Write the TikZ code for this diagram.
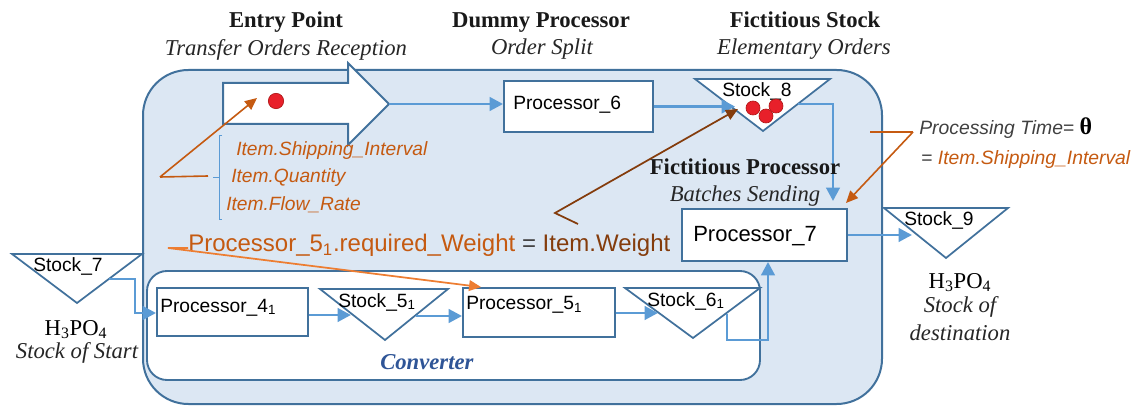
\documentclass[tikz,border=0pt]{standalone}
\usepackage{fontspec}
\setmainfont{Liberation Serif}
\newfontfamily\arialf{Liberation Sans}
\usetikzlibrary{arrows.meta}
\definecolor{bordc}{HTML}{41719C}
\definecolor{connc}{HTML}{5B9BD5}
\definecolor{fillc}{HTML}{DCE7F3}
\definecolor{orgc}{HTML}{C55A11}
\definecolor{orgl}{HTML}{ED7D31}
\definecolor{brnc}{HTML}{843C0C}
\definecolor{grayc}{HTML}{404040}
\definecolor{convc}{HTML}{2F5597}
\definecolor{dotc}{HTML}{E8202A}
\definecolor{dotb}{HTML}{B01818}
\begin{document}
\begin{tikzpicture}[x=0.75pt,y=-0.75pt,
  procbox/.style={draw=bordc, fill=white, line width=1.4pt, inner sep=0pt},
  stockshape/.style={draw=bordc, fill=white, line width=1.3pt, line join=miter},
  conn/.style={draw=connc, line width=2.2pt, -{Triangle[length=10pt,width=10pt]}},
  orgln/.style={draw=orgc, line width=1.2pt, -{Triangle[length=9pt,width=8pt]}},
  sanslbl/.style={inner sep=0pt, anchor=base west, text=black, font=\arialf\fontsize{14.4}{17}\selectfont},
  itemlbl/.style={inner sep=0pt, anchor=base west, text=orgc, font=\arialf\itshape\fontsize{14.4}{17}\selectfont},
  headb/.style={inner sep=0pt, anchor=base, text=black!90, font=\bfseries\fontsize{17}{20}\selectfont},
  headi/.style={inner sep=0pt, anchor=base, text=black!85, font=\itshape\fontsize{17}{20}\selectfont},
  reddot/.style={circle, fill=dotc, draw=dotb, line width=0.5pt, inner sep=0pt},
]
\useasboundingbox (0,0) rectangle (1143,406);

% main container
\draw[draw=bordc, fill=fillc, line width=1.5pt, rounded corners=34pt] (143,70) rectangle (882,404);

% converter
\node[draw=bordc, fill=white, line width=1.4pt, rounded corners=15pt, inner sep=0pt,
      minimum width=459.75pt, minimum height=81.75pt] (conv) at (453.5,325.5) {};
\node[inner sep=0pt, anchor=base west, text=convc, font=\bfseries\itshape\fontsize{17}{20}\selectfont] (convlbl) at (380,369) {Converter};

% entry arrow
\draw[draw=bordc, fill=white, line width=1.5pt, line join=miter]
  (223,83) -- (348,83) -- (348,63) -- (389,104) -- (348,145) -- (348,124) -- (223,124) -- cycle;
\coordinate (eptip) at (389,104);
\node[reddot, minimum size=11.5pt] (dot) at (276,101) {};

% processors
\node[procbox, minimum width=111.75pt, minimum height=38.25pt] (p6) at (578.5,106.5) {};
\node[sanslbl] (p6t) at (513,110) {Processor\_6};
\node[procbox, minimum width=123.75pt, minimum height=39pt] (p7) at (764.5,235) {};
\node[sanslbl, font=\arialf\fontsize{16.5}{19}\selectfont] (p7t) at (693,242) {Processor\_7};
\node[procbox, minimum width=113.25pt, minimum height=36pt] (p4) at (232.5,312) {};
\node[sanslbl] (p4t) at (160,312) {Processor\_4\textsubscript{1}};
\node[procbox, minimum width=114pt, minimum height=36.75pt] (p5) at (539,312.5) {};
\node[sanslbl] (p5t) at (466,310) {Processor\_5\textsubscript{1}};

% stocks
\draw[stockshape] (695,79) -- (830,79) -- (763,131) -- cycle;
\node[sanslbl] (s8t) at (722,97) {Stock\_8};
\node[reddot, minimum size=10.5pt] (d1) at (753,108) {};
\node[reddot, minimum size=10.5pt] (d3) at (776,106) {};
\node[reddot, minimum size=10.5pt] (d2) at (766,116) {};
\coordinate (s8in) at (735,106);
\coordinate (s8out) at (798,104);
\coordinate (s8arr) at (738,109);

\draw[stockshape] (12,254) -- (142,254) -- (77,303) -- cycle;
\node[sanslbl] (s7t) at (33,272) {Stock\_7};
\coordinate (s7out) at (109,279);

\draw[stockshape] (884,208) -- (1008,208) -- (946,258) -- cycle;
\node[sanslbl] (s9t) at (904,226) {Stock\_9};
\coordinate (s9in) at (912,234);

\draw[stockshape] (320,289) -- (448,289) -- (385,340) -- cycle;
\node[sanslbl] (s5t) at (338,307) {Stock\_5\textsubscript{1}};
\coordinate (s5in) at (351,315);
\coordinate (s5out) at (416,316);

\draw[stockshape] (625,288) -- (760,288) -- (693,338) -- cycle;
\node[sanslbl] (s6t) at (647,306) {Stock\_6\textsubscript{1}};
\coordinate (s6in) at (658,313);
\coordinate (s6out) at (727,314);

% blue connectors
\draw[conn] (eptip) -- (eptip -| p6.west);
\draw[conn] (p6.east) -- (p6.east -| s8in);
\draw[conn] (s8out) -- (833,104) -- (833,201);
\draw[conn] (p7.east) -- (p7.east -| s9in);
\draw[conn] (s7out) -- (135,279) -- (135,313) -- (p4.west |- 0,313);
\draw[conn] (p4.east |- 0,315) -- (s5in);
\draw[conn] (s5out) -- (p5.west |- s5out);
\draw[conn] (p5.east |- 0,313) -- (s6in);
\draw[conn] (s6out) -- (727,340) -- (768,340) -- (p7.south -| 768,0);

% top headings
\node[headb] (h1) at (286,28) {Entry Point};
\node[headi] (h1i) at (286,56) {Transfer Orders Reception};
\node[headb] (h2) at (541,28) {Dummy Processor};
\node[headi] (h2i) at (542,55) {Order Split};
\node[headb] (h3) at (805,28) {Fictitious Stock};
\node[headi] (h3i) at (804,55) {Elementary Orders};
\node[headb] (h4) at (745,175) {Fictitious Processor};
\node[headi] (h4i) at (745,202) {Batches Sending};

% side texts
\node[inner sep=0pt, anchor=base, font=\fontsize{17}{20}\selectfont] (h3po4a) at (76,335) {H\textsubscript{3}PO\textsubscript{4}};
\node[headi] (ssa) at (77,358) {Stock of Start};
\node[inner sep=0pt, anchor=base, font=\fontsize{17}{20}\selectfont] (h3po4b) at (960,288) {H\textsubscript{3}PO\textsubscript{4}};
\node[headi] (ssb) at (960,312) {Stock of};
\node[headi] (ssc) at (960,340) {destination};

% bracket annotations
\draw[draw=connc, line width=0.7pt] (222,135) -- (219,135) -- (219,219) -- (222,219);
\draw[draw=connc, line width=0.7pt] (219,177) -- (213,177);
\node[itemlbl] (it1) at (236,156) {Item.Shipping\_Interval};
\node[itemlbl] (it2) at (231,183) {Item.Quantity};
\node[itemlbl] (it3) at (226,211) {Item.Flow\_Rate};
\coordinate (brk) at (160,177);
\coordinate (dotarr) at (257,98);
\draw[draw=orgc, line width=1.2pt] (208,176) -- (brk);
\draw[orgln] (brk) -- (dotarr);

% formula
\node[inner sep=0pt, anchor=base west, font=\arialf\fontsize{18}{21}\selectfont] (formula) at (188,252)
  {\textcolor{orgc}{Processor\_5\textsubscript{1}.required\_Weight} \textcolor{grayc}{=} \textcolor{brnc}{Item.Weight}};
\coordinate (fl) at (168,248);
\draw[draw=orgl, line width=1.3pt, -{Triangle[length=9pt,width=8pt]}] (formula.west |- fl) -- (fl) -- ([xshift=14.25pt]p5.north west);
\coordinate (bw1) at (578,224);
\coordinate (bw2) at (555,213);
\draw[draw=brnc, line width=1.3pt, -{Triangle[length=9pt,width=8pt]}] (bw1) -- (bw2) -- (s8arr);

% processing time
\node[inner sep=0pt, anchor=base west, text=grayc, font=\arialf\fontsize{14.5}{17}\selectfont] (ptime) at (919,135)
  {\itshape Processing Time\upshape= {\rmfamily\bfseries\color{black}\fontsize{18}{20}\selectfont θ}};
\node[inner sep=0pt, anchor=base west, text=grayc, font=\arialf\fontsize{14.5}{17}\selectfont] (pteq) at (921,165)
  {= \textcolor{orgc}{\itshape Item.Shipping\_Interval}};
\coordinate (ptc) at (913,132);
\coordinate (ptarr) at (846,203);
\draw[draw=orgc, line width=1.2pt] (870,132) -- (ptc);
\draw[orgln] (ptc) -- (ptarr);
\end{tikzpicture}
\end{document}
